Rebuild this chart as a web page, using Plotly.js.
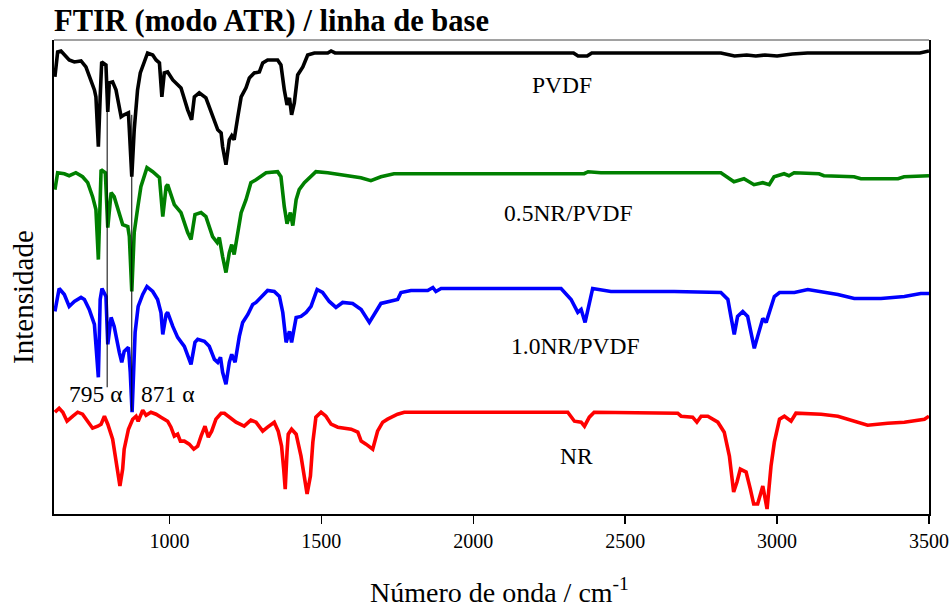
<!DOCTYPE html>
<html>
<head>
<meta charset="utf-8">
<script src="https://cdn.plot.ly/plotly-3.0.1.min.js"></script>
<style>html,body{margin:0;padding:0;background:#fff;}#chart{width:950px;height:613px;}</style>
</head>
<body>
<div id="chart"></div>
<script>
// ---- data (wavenumber cm-1, offset intensity a.u.) ----
const seriesNames = ["PVDF", "0.5NR/PVDF", "1.0NR/PVDF", "NR"];

const wnPVDF = [623,632,643,670,687,709,725,742,753,758,766,772,777,791,797,802,813,824,841,851,865,868,876,884,895,904,917,928,945,956,967,975,983,994,1011,1038,1060,1073,1082,1098,1120,1142,1159,1170,1175,1186,1197,1205,1213,1225,1236,1252,1263,1279,1296,1307,1323,1356,1367,1378,1387,1395,1402,1411,1422,1439,1455,1477,1521,1532,1545,2330,2345,2375,2390,2815,2830,2860,2900,2930,2960,3000,3050,3100,3470,3500];
const intPVDF = [438,463,464,455,453,454,448,435,425,418,368,418,453,450,403,432,433,425,398,400,402,385,338,385,425,442,453,462,460,455,452,418,442,443,435,427,405,395,418,422,417,398,385,382,368,350,375,379,375,398,418,427,437,442,443,452,455,455,450,425,410,417,400,412,440,448,460,462,462,464,462,462,459,459,462,462,461,459,460,459,460,459,461,462,462,464];

const wn05 = [623,632,654,670,692,714,731,747,758,766,775,789,797,808,818,841,846,863,868,876,884,896,906,926,945,967,978,989,994,1016,1038,1060,1071,1084,1104,1120,1142,1157,1164,1175,1186,1197,1205,1213,1225,1236,1252,1268,1285,1301,1318,1356,1367,1378,1387,1398,1406,1417,1427,1444,1460,1482,1521,1565,1630,1663,1696,1739,2365,2378,2420,2815,2858,2891,2924,2953,2974,2990,3023,3039,3056,3138,3154,3253,3276,3398,3418,3500];
const int05 = [325,342,341,339,342,338,332,318,305,255,345,342,287,322,318,295,290,288,278,223,282,308,328,347,343,337,298,328,330,310,302,282,275,300,302,298,278,272,277,258,242,262,270,260,282,302,315,332,335,338,342,343,338,308,291,302,289,315,325,332,337,343,342,340,337,334,338,341,341,343,342,342,333,336,330,332,330,338,341,339,342,341,339,338,336,336,338,339];

const wn10 = [623,637,654,670,687,709,720,736,753,766,772,778,791,797,808,818,835,843,851,865,871,877,887,897,912,926,945,961,972,978,989,994,1011,1027,1049,1071,1084,1093,1115,1131,1148,1159,1168,1175,1186,1197,1205,1216,1230,1241,1258,1274,1285,1301,1323,1345,1362,1373,1384,1395,1402,1417,1433,1450,1466,1486,1504,1526,1548,1570,1603,1631,1658,1696,1729,1751,1762,1795,1850,1867,1877,1894,2289,2322,2344,2355,2368,2393,2453,2661,2815,2838,2848,2859,2870,2887,2903,2916,2925,2936,2953,2964,2975,2991,3008,3057,3101,3145,3200,3254,3342,3419,3473,3500];
const int10 = [203,226,220,208,213,217,215,205,190,137,215,226,218,170,197,188,162,152,163,167,142,102,182,208,220,228,223,215,202,180,200,202,188,177,168,150,172,175,173,168,155,152,157,142,130,152,160,152,178,192,200,210,212,217,224,223,218,202,172,183,172,197,198,202,208,225,222,213,207,212,211,205,192,211,213,215,222,224,224,227,223,226,226,215,202,205,192,226,223,223,222,215,198,180,198,203,198,178,166,178,196,192,202,218,222,222,225,223,220,216,216,218,221,221];

const wnNR = [623,637,649,663,682,698,714,731,747,764,775,786,797,813,824,837,846,851,865,879,890,897,912,923,939,956,972,994,1005,1016,1027,1036,1049,1065,1080,1093,1104,1117,1128,1139,1153,1170,1181,1197,1219,1246,1268,1285,1307,1323,1345,1358,1369,1376,1381,1387,1391,1402,1417,1433,1444,1453,1464,1472,1482,1499,1515,1532,1554,1598,1620,1631,1647,1669,1685,1702,1718,1751,1773,2311,2333,2355,2366,2382,2398,2673,2684,2722,2736,2750,2772,2805,2826,2843,2857,2868,2879,2898,2912,2923,2936,2953,2967,2980,2991,3008,3024,3046,3062,3145,3200,3254,3298,3364,3419,3485,3500];
const intNR = [102,106,102,93,98,102,100,92,86,88,90,98,90,75,52,28,45,65,85,95,98,93,104,99,102,100,97,93,87,78,80,73,73,70,65,68,78,88,77,83,95,101,101,97,92,88,94,92,83,87,92,83,68,45,25,62,80,85,80,58,35,20,38,72,97,102,98,90,87,85,82,73,70,65,83,92,95,100,102,102,93,92,88,97,102,101,98,97,92,98,98,92,82,58,22,32,45,42,25,10,10,28,5,48,72,95,98,93,101,100,98,93,89,91,92,95,98];

// label annotations
const labelX = [2292, 2312, 2335, 2341];
const labelY = [430, 302, 168, 58];
const peakText = ["795 \u03b1", "871 \u03b1"];
const peakLabelX = [758, 994];
const peakLabelY = [120, 120];
const peakLineX = [795, 876];
const peakLineBottom = [127, 103];
const peakLineTop = [435, 400];

const titleText = "<b>FTIR (modo ATR) / linha de base</b>";
const xTitleText = "Número de onda / cm<sup>-1</sup>";
const yTitleText = "Intensidade";

const colors = ["#000000", "#008000", "#0000ff", "#ff0000"];
const xs = [wnPVDF, wn05, wn10, wnNR];
const ys = [intPVDF, int05, int10, intNR];

const serif = "Liberation Serif, Times New Roman, Times, serif";

const traces = xs.map((x, i) => ({
  x: x, y: ys[i], type: "scatter", mode: "lines", name: seriesNames[i],
  line: {color: colors[i], width: 3.6}, hoverinfo: "x+y+name"
}));

const annotations = seriesNames.map((t, i) => ({
  x: labelX[i], y: labelY[i], xref: "x", yref: "y", text: t, showarrow: false,
  font: {family: serif, size: 23.5, color: "#000"}
})).concat(peakText.map((t, i) => ({
  x: peakLabelX[i], y: peakLabelY[i], xref: "x", yref: "y", text: t, showarrow: false,
  font: {family: serif, size: 23.5, color: "#000"}
})));
// axis titles placed as annotations for exact position
annotations.push({
  text: yTitleText, textangle: -90, showarrow: false,
  xref: "paper", yref: "paper", x: 0, xanchor: "center", xshift: -31,
  y: 0.458, yanchor: "middle",
  font: {family: serif, size: 29, color: "#000"}
});
annotations.push({
  text: xTitleText, showarrow: false,
  xref: "paper", yref: "paper", x: 0.509, xanchor: "center",
  y: 0, yanchor: "bottom", yshift: -96,
  font: {family: serif, size: 28, color: "#000"}
});

const shapes = peakLineX.map((px, i) => ({
  type: "line", xref: "x", yref: "y", x0: px, x1: px, y0: peakLineBottom[i], y1: peakLineTop[i],
  line: {color: "#000", width: 1}
}));
shapes.push({type: "line", xref: "paper", yref: "paper", x0: 0, x1: 1, y0: 1, y1: 1,
  line: {color: "#444", width: 1}});

const layout = {
  width: 950, height: 613,
  margin: {l: 54, r: 21, t: 40, b: 99},
  paper_bgcolor: "#fff", plot_bgcolor: "#fff",
  showlegend: false,
  title: {
    text: titleText,
    x: 0, xref: "paper", xanchor: "left",
    y: 1 - 20 / 613, yref: "container", yanchor: "middle",
    font: {family: serif, size: 30.5, color: "#000"}
  },
  xaxis: {
    range: [620, 3500], tickvals: [1000, 1500, 2000, 2500, 3000, 3500],
    ticks: "outside", ticklen: 8, tickwidth: 1.5, tickcolor: "#000",
    showline: true, linewidth: 2, linecolor: "#000", mirror: false,
    showgrid: false, zeroline: false,
    tickfont: {family: serif, size: 20, color: "#000"}
  },
  yaxis: {
    range: [0, 475], showticklabels: false, ticks: "",
    showline: true, linewidth: 2, linecolor: "#000", mirror: true,
    showgrid: false, zeroline: false
  },
  annotations: annotations,
  shapes: shapes
};

Plotly.newPlot("chart", traces, layout, {displayModeBar: false, staticPlot: true});
</script>
</body>
</html>
